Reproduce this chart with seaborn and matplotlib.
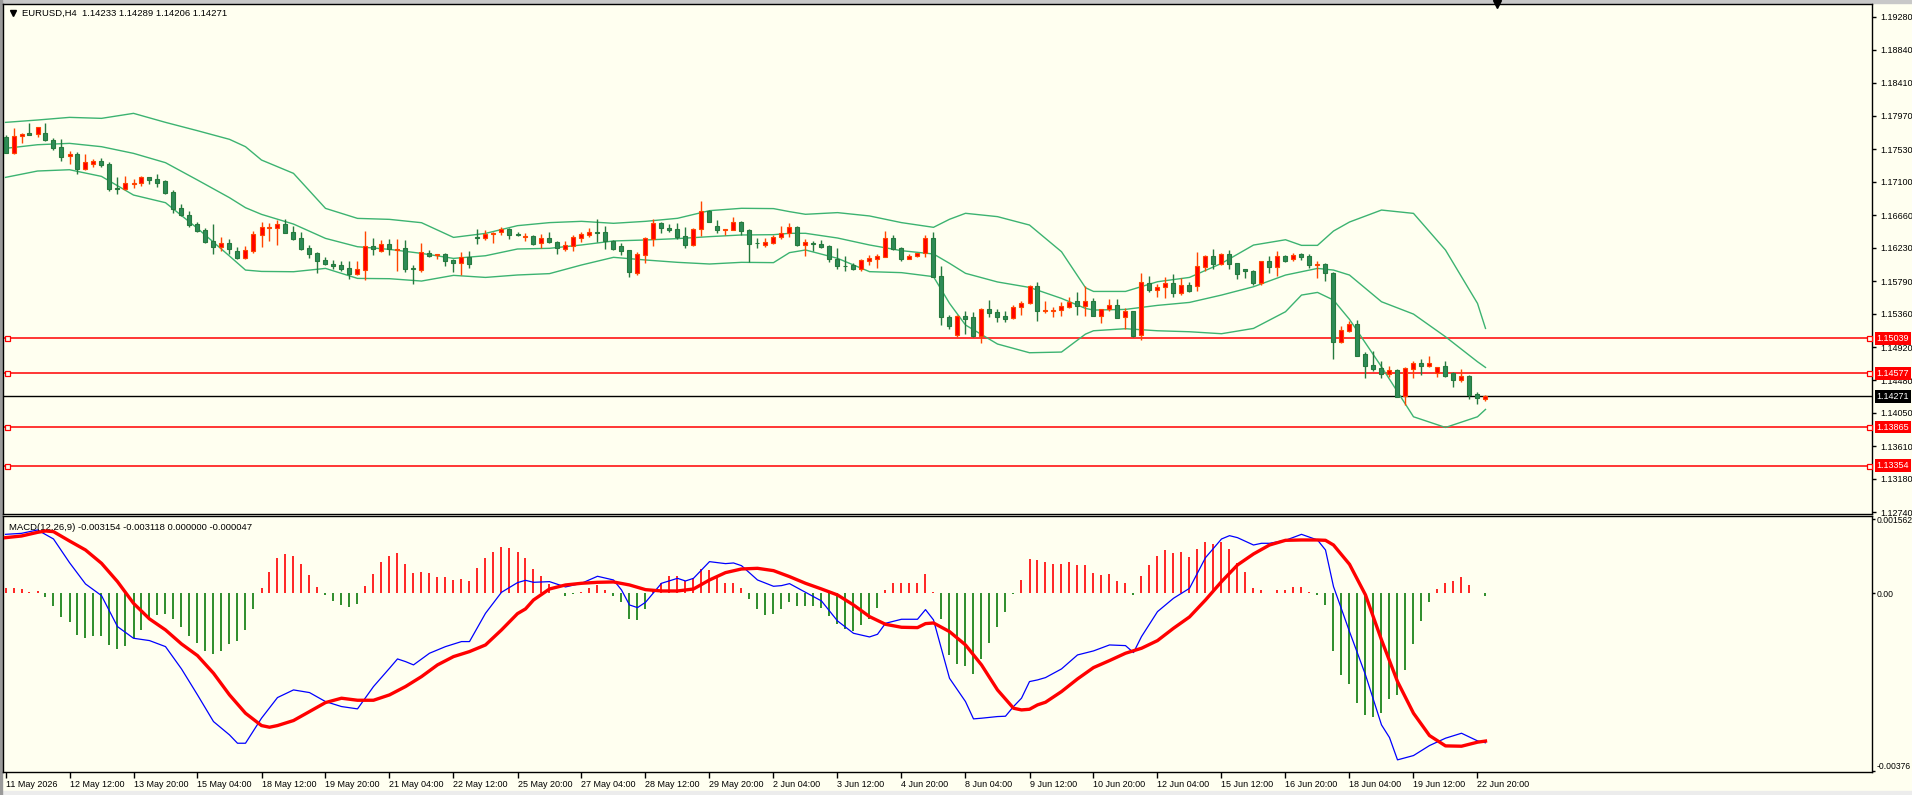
import numpy as np
import pandas as pd
import matplotlib
matplotlib.use("Agg")
import matplotlib.pyplot as plt
import seaborn as sns
from matplotlib.transforms import blended_transform_factory
from matplotlib.patches import Rectangle

plt.rcParams['font.family'] = ['Liberation Sans', 'DejaVu Sans']

# ---------------- data ----------------
SYMBOL_TITLE = "EURUSD,H4  1.14233 1.14289 1.14206 1.14271"
MACD_TITLE = "MACD(12,26,9) -0.003154 -0.003118 0.000000 -0.000047"

OPEN = [1.17696,1.17485,1.17705,1.17744,1.17727,1.17744,1.17648,1.17560,1.17436,1.17467,
1.17274,1.17340,1.17375,1.17335,1.17023,1.17010,1.17076,1.17080,1.17159,1.17137,
1.17111,1.16966,1.16754,1.16662,1.16543,1.16464,1.16314,1.16244,1.16292,1.16187,
1.16099,1.16191,1.16402,1.16495,1.16495,1.16543,1.16442,1.16358,1.16222,1.16165,
1.16068,1.16020,1.16002,1.15958,1.15888,1.15940,1.16253,1.16191,1.16279,1.16204,
1.16226,1.15958,1.15936,1.16160,1.16134,1.16147,1.16068,1.16033,1.16108,1.16367,
1.16354,1.16411,1.16434,1.16478,1.16412,1.16368,1.16386,1.16289,1.16355,1.16302,
1.16219,1.16258,1.16364,1.16403,1.16439,1.16434,1.16324,1.16254,1.16197,1.15902,
1.16139,1.16346,1.16557,1.16487,1.16474,1.16386,1.16271,1.16483,1.16716,1.16518,
1.16469,1.16469,1.16571,1.16461,1.16298,1.16271,1.16298,1.16368,1.16421,1.16505,
1.16271,1.16293,1.16280,1.16254,1.16078,1.15994,1.15999,1.15955,1.16051,1.16087,
1.16113,1.16355,1.16223,1.16087,1.16117,1.16157,1.16355,1.15853,1.15317,1.15079,
1.15330,1.15317,1.15070,1.15418,1.15383,1.15333,1.15298,1.15443,1.15496,1.15720,
1.15399,1.15399,1.15412,1.15452,1.15522,1.15465,1.15522,1.15333,1.15421,1.15470,
1.15311,1.15390,1.15074,1.15760,1.15676,1.15707,1.15764,1.15628,1.15734,1.15729,
1.15971,1.16121,1.16011,1.16143,1.16024,1.15945,1.15923,1.15764,1.16055,1.15980,
1.16116,1.16077,1.16143,1.16121,1.16002,1.16011,1.15901,1.14990,1.15135,1.15223,
1.14827,1.14682,1.14638,1.14568,1.14616,1.14268,1.14629,1.14708,1.14673,1.14572,
1.14669,1.14572,1.14484,1.14537,1.14299,1.14233]

HIGH = [1.17718,1.17810,1.17749,1.17881,1.17828,1.17881,1.17674,1.17665,1.17507,1.17489,
1.17467,1.17401,1.17410,1.17362,1.17168,1.17177,1.17133,1.17177,1.17168,1.17203,
1.17124,1.16992,1.16807,1.16715,1.16570,1.16486,1.16543,1.16376,1.16341,1.16240,
1.16253,1.16451,1.16570,1.16552,1.16596,1.16609,1.16517,1.16433,1.16262,1.16174,
1.16112,1.16068,1.16055,1.16050,1.16050,1.16451,1.16354,1.16332,1.16341,1.16341,
1.16332,1.16002,1.16288,1.16200,1.16152,1.16156,1.16077,1.16174,1.16187,1.16477,
1.16464,1.16438,1.16509,1.16496,1.16443,1.16421,1.16395,1.16412,1.16439,1.16320,
1.16320,1.16399,1.16434,1.16491,1.16606,1.16513,1.16333,1.16289,1.16205,1.16170,
1.16377,1.16606,1.16571,1.16544,1.16557,1.16509,1.16496,1.16848,1.16729,1.16593,
1.16478,1.16637,1.16579,1.16474,1.16364,1.16355,1.16399,1.16518,1.16553,1.16513,
1.16342,1.16320,1.16329,1.16263,1.16223,1.16122,1.16025,1.16082,1.16135,1.16148,
1.16452,1.16399,1.16245,1.16148,1.16161,1.16399,1.16439,1.15990,1.15343,1.15339,
1.15396,1.15387,1.15440,1.15541,1.15427,1.15395,1.15470,1.15531,1.15734,1.15778,
1.15522,1.15452,1.15514,1.15580,1.15646,1.15725,1.15566,1.15426,1.15549,1.15549,
1.15430,1.15399,1.15892,1.15857,1.15751,1.15839,1.15883,1.15830,1.15778,1.16174,
1.16130,1.16209,1.16156,1.16200,1.16033,1.15949,1.15936,1.16055,1.16116,1.16187,
1.16130,1.16156,1.16156,1.16147,1.16055,1.16024,1.15914,1.15197,1.15263,1.15276,
1.14854,1.14867,1.14730,1.14669,1.14625,1.14651,1.14735,1.14761,1.14801,1.14660,
1.14735,1.14585,1.14629,1.14546,1.14326,1.14289]

LOW = [1.17476,1.17467,1.17617,1.17714,1.17696,1.17643,1.17524,1.17375,1.17340,1.17199,
1.17256,1.17300,1.17300,1.16983,1.16939,1.16992,1.17018,1.17045,1.17071,1.17036,
1.16944,1.16693,1.16649,1.16508,1.16442,1.16297,1.16147,1.16191,1.16147,1.16077,
1.16077,1.16156,1.16244,1.16323,1.16266,1.16420,1.16332,1.16204,1.16099,1.15901,
1.16002,1.15949,1.15918,1.15822,1.15866,1.15808,1.16138,1.16178,1.16134,1.15927,
1.15914,1.15747,1.15914,1.16112,1.16077,1.15993,1.15910,1.15870,1.15967,1.16275,
1.16332,1.16288,1.16399,1.16351,1.16390,1.16324,1.16271,1.16227,1.16298,1.16153,
1.16192,1.16188,1.16311,1.16368,1.16307,1.16219,1.16201,1.16139,1.15849,1.15875,
1.16025,1.16258,1.16430,1.16439,1.16346,1.16223,1.16258,1.16390,1.16571,1.16430,
1.16399,1.16465,1.16399,1.16043,1.16227,1.16245,1.16276,1.16351,1.16368,1.16258,
1.16126,1.16192,1.16232,1.16038,1.15955,1.15928,1.15937,1.15928,1.16007,1.15963,
1.16104,1.16197,1.16060,1.16082,1.16109,1.16113,1.15840,1.15211,1.15158,1.15048,
1.15092,1.15057,1.14978,1.15312,1.15255,1.15254,1.15289,1.15342,1.15487,1.15263,
1.15373,1.15320,1.15333,1.15439,1.15342,1.15329,1.15330,1.15241,1.15399,1.15298,
1.15153,1.15056,1.15012,1.15650,1.15584,1.15562,1.15584,1.15610,1.15650,1.15663,
1.15927,1.15949,1.15998,1.15954,1.15822,1.15835,1.15742,1.15734,1.15901,1.15857,
1.16046,1.16059,1.16068,1.15962,1.15835,1.15795,1.14766,1.14977,1.15113,1.14800,
1.14515,1.14598,1.14510,1.14528,1.14260,1.14154,1.14515,1.14554,1.14660,1.14519,
1.14528,1.14392,1.14462,1.14238,1.14172,1.14206]

CLOSE = [1.17485,1.17705,1.17731,1.17722,1.17819,1.17656,1.17551,1.17432,1.17467,1.17274,
1.17362,1.17375,1.17322,1.17010,1.17010,1.17084,1.17089,1.17168,1.17128,1.17089,
1.16957,1.16746,1.16662,1.16534,1.16455,1.16310,1.16244,1.16288,1.16218,1.16099,
1.16196,1.16411,1.16504,1.16504,1.16543,1.16429,1.16345,1.16218,1.16152,1.16059,
1.16015,1.15993,1.15954,1.15883,1.15945,1.16253,1.16209,1.16275,1.16209,1.16213,
1.15954,1.15945,1.16169,1.16125,1.16147,1.16059,1.16033,1.16103,1.16011,1.16358,
1.16411,1.16424,1.16474,1.16403,1.16395,1.16386,1.16285,1.16355,1.16307,1.16223,
1.16271,1.16373,1.16412,1.16439,1.16430,1.16320,1.16214,1.16192,1.15906,1.16144,
1.16355,1.16553,1.16491,1.16465,1.16377,1.16271,1.16478,1.16711,1.16575,1.16469,
1.16478,1.16566,1.16452,1.16285,1.16289,1.16307,1.16373,1.16421,1.16500,1.16271,
1.16307,1.16276,1.16245,1.16078,1.15994,1.15985,1.15950,1.16065,1.16095,1.16122,
1.16355,1.16210,1.16082,1.16117,1.16157,1.16355,1.15849,1.15312,1.15202,1.15325,
1.15295,1.15070,1.15418,1.15374,1.15321,1.15289,1.15448,1.15496,1.15720,1.15399,
1.15412,1.15412,1.15461,1.15518,1.15461,1.15522,1.15333,1.15417,1.15470,1.15307,
1.15390,1.15069,1.15773,1.15676,1.15712,1.15760,1.15628,1.15734,1.15663,1.15989,
1.16121,1.16011,1.16143,1.16020,1.15888,1.15918,1.15769,1.16050,1.15980,1.16116,
1.16059,1.16130,1.16112,1.16006,1.16011,1.15901,1.14990,1.15140,1.15219,1.14805,
1.14673,1.14629,1.14568,1.14612,1.14264,1.14638,1.14708,1.14673,1.14708,1.14651,
1.14541,1.14488,1.14537,1.14290,1.14242,1.14271]

BAND_IDX = [0,4,8,12,16,20,24,28,30,32,36,40,44,48,52,56,60,64,68,72,76,80,84,88,92,96,98,100,
            104,108,112,116,118,120,124,128,132,135,136,140,144,148,152,156,160,162,164,166,168,
            172,176,180,184,185]
BAND_UP = [1.17885,1.17916,1.17951,1.17938,1.18004,1.17885,1.17775,1.17661,1.17564,1.17388,1.17212,
           1.16750,1.16618,1.16605,1.16561,1.16367,1.16420,1.16522,1.16562,1.16579,1.16553,1.16579,
           1.16619,1.16720,1.16751,1.16747,1.16707,1.16672,1.16694,1.16650,1.16562,1.16500,1.16606,
           1.16685,1.16641,1.16530,1.16178,1.15703,1.15654,1.15654,1.15782,1.15839,1.16024,1.16266,
           1.16336,1.16262,1.16262,1.16451,1.16570,1.16728,1.16684,1.16200,1.15496,1.15166]
BAND_MID = [1.17542,1.17590,1.17608,1.17564,1.17476,1.17353,1.17124,1.16891,1.16759,1.16671,1.16543,
            1.16354,1.16244,1.16209,1.16156,1.16090,1.16125,1.16214,1.16223,1.16267,1.16320,1.16333,
            1.16351,1.16377,1.16399,1.16403,1.16421,1.16421,1.16359,1.16267,1.16192,1.16148,1.16025,
            1.15893,1.15779,1.15707,1.15562,1.15430,1.15408,1.15417,1.15470,1.15509,1.15606,1.15716,
            1.15870,1.15914,1.15958,1.15936,1.15870,1.15518,1.15355,1.15056,1.14726,1.14651]
BAND_LOW = [1.17159,1.17243,1.17260,1.17172,1.16926,1.16825,1.16486,1.16121,1.15936,1.15918,1.15914,
            1.15958,1.15826,1.15822,1.15791,1.15866,1.15839,1.15871,1.15889,1.16003,1.16104,1.16069,
            1.16038,1.16016,1.16038,1.16034,1.16166,1.16201,1.16091,1.15915,1.15902,1.15849,1.15497,
            1.15211,1.14960,1.14845,1.14854,1.15091,1.15135,1.15162,1.15135,1.15122,1.15096,1.15166,
            1.15386,1.15606,1.15641,1.15540,1.15285,1.14660,1.14000,1.13859,1.14000,1.14097]

LEVELS = [1.15039, 1.14577, 1.13865, 1.13354]
PRICE_TICKS = [1.19280,1.18840,1.18410,1.17970,1.17530,1.17100,1.16660,1.16230,1.15790,
               1.15360,1.14920,1.14480,1.14050,1.13610,1.13180,1.12740]

HIST = [0.000112,0.000112,0.000091,0.000035,0.000049,-0.000070,-0.000260,-0.000492,-0.000605,-0.000872,
-0.000935,-0.000907,-0.000907,-0.001083,-0.001167,-0.001104,-0.000949,-0.000766,-0.000569,-0.000457,
-0.000436,-0.000548,-0.000710,-0.000893,-0.001040,-0.001216,-0.001272,-0.001223,-0.001062,-0.001005,
-0.000773,-0.000323,0.000112,0.000450,0.000745,0.000823,0.000787,0.000619,0.000380,0.000134,
-0.000028,-0.000162,-0.000246,-0.000281,-0.000225,0.000155,0.000408,0.000661,0.000780,0.000851,
0.000619,0.000429,0.000450,0.000429,0.000344,0.000344,0.000281,0.000302,0.000260,0.000541,
0.000745,0.000872,0.000977,0.000956,0.000879,0.000745,0.000513,0.000366,0.000197,0.000007,
-0.000049,-0.000014,0.000021,0.000112,0.000183,0.000070,-0.000049,-0.000176,-0.000534,-0.000555,
-0.000323,0.000042,0.000211,0.000359,0.000359,0.000253,0.000316,0.000513,0.000485,0.000373,
0.000218,0.000218,0.000112,-0.000112,-0.000323,-0.000450,-0.000429,-0.000323,-0.000176,-0.000260,
-0.000260,-0.000260,-0.000302,-0.000471,-0.000640,-0.000745,-0.000787,-0.000661,-0.000534,-0.000302,
0.000077,0.000218,0.000218,0.000218,0.000218,0.000408,0.000028,-0.000534,-0.001294,-0.001483,
-0.001533,-0.001701,-0.001378,-0.001040,-0.000703,-0.000387,-0.000014,0.000281,0.000724,0.000703,
0.000661,0.000619,0.000619,0.000661,0.000598,0.000598,0.000429,0.000387,0.000408,0.000260,
0.000218,-0.000042,0.000366,0.000598,0.000787,0.000914,0.000851,0.000872,0.000766,0.000935,
0.001083,0.001040,0.001083,0.000935,0.000640,0.000450,0.000112,0.000070,0.000000,0.000070,
0.000070,0.000134,0.000134,0.000028,-0.000035,-0.000246,-0.001209,-0.001722,-0.001912,-0.002306,
-0.002566,-0.002601,-0.002517,-0.002221,-0.002137,-0.001610,-0.001062,-0.000576,-0.000176,0.000091,
0.000218,0.000260,0.000344,0.000176,0.000007,-0.000047]

MACD_IDX = [0,2,4,6,8,10,12,14,16,18,20,22,24,26,28,29,30,32,34,36,38,40,42,44,46,48,49,50,51,53,55,
            57,58,60,62,64,65,66,68,70,72,74,76,77,78,79,80,82,84,85,86,88,90,91,92,94,96,97,98,100,
            102,104,106,108,109,110,112,114,115,116,118,120,121,122,124,125,126,127,128,129,130,132,
            134,136,138,140,141,142,144,146,148,150,152,153,154,156,157,158,160,162,164,165,166,168,
            170,172,173,174,176,178,180,182,184,185]
MACD_MAIN = [0.001244,0.001265,0.001336,0.001146,0.000647,0.000197,-0.000049,-0.000703,-0.000949,-0.000998,
-0.001125,-0.001596,-0.002144,-0.002707,-0.002988,-0.003164,-0.003164,-0.002636,-0.002200,-0.002039,
-0.002095,-0.002285,-0.002390,-0.002439,-0.001968,-0.001582,-0.001385,-0.001441,-0.001511,-0.001265,
-0.001125,-0.001019,-0.001019,-0.000422,0.000021,0.000225,0.000274,0.000232,0.000246,0.000134,
0.000211,0.000359,0.000281,0.000070,-0.000246,-0.000302,-0.000190,0.000211,0.000316,0.000260,
0.000316,0.000668,0.000626,0.000640,0.000583,0.000281,0.000148,0.000162,0.000204,0.000021,
-0.000162,-0.000583,-0.000844,-0.000921,-0.000865,-0.000633,-0.000548,-0.000548,-0.000344,-0.000562,
-0.001793,-0.002285,-0.002650,-0.002636,-0.002601,-0.002594,-0.002390,-0.002214,-0.001863,-0.001828,
-0.001779,-0.001596,-0.001301,-0.001216,-0.001090,-0.001104,-0.001251,-0.000914,-0.000387,-0.000105,
0.000105,0.000752,0.001146,0.001216,0.001174,0.001019,0.001055,0.001055,0.001118,0.001244,
0.001125,0.000914,0.000141,-0.000808,-0.001722,-0.002777,-0.003044,-0.003515,-0.003424,-0.003213,
-0.003058,-0.002953,-0.003114,-0.003154]

SIG_IDX = [0,2,4,5,6,8,10,12,14,16,18,20,22,24,26,28,30,32,33,34,36,38,40,42,44,46,48,50,52,54,56,58,
           60,62,64,65,66,68,70,72,74,76,78,80,82,84,86,88,90,92,94,96,98,100,102,104,106,108,110,112,
           114,115,116,118,120,122,124,126,127,128,129,130,132,134,136,138,140,142,144,146,148,150,152,
           154,156,158,160,162,164,165,166,168,170,172,174,176,178,180,182,184,185]
MACD_SIGNAL = [0.001174,0.001209,0.001286,0.001315,0.001301,0.001104,0.000914,0.000633,0.000246,-0.000211,
-0.000541,-0.000773,-0.001069,-0.001315,-0.001687,-0.002144,-0.002531,-0.002791,-0.002826,-0.002791,
-0.002685,-0.002496,-0.002306,-0.002214,-0.002257,-0.002257,-0.002144,-0.001968,-0.001758,-0.001511,
-0.001336,-0.001230,-0.001090,-0.000773,-0.000429,-0.000330,-0.000141,0.000091,0.000176,0.000211,
0.000232,0.000239,0.000176,0.000077,0.000049,0.000049,0.000091,0.000281,0.000436,0.000513,
0.000527,0.000478,0.000352,0.000211,0.000091,-0.000035,-0.000246,-0.000492,-0.000654,-0.000717,
-0.000724,-0.000640,-0.000626,-0.000808,-0.001090,-0.001511,-0.002039,-0.002425,-0.002461,-0.002447,
-0.002355,-0.002299,-0.002074,-0.001807,-0.001568,-0.001420,-0.001265,-0.001160,-0.000998,-0.000738,
-0.000499,-0.000141,0.000246,0.000598,0.000830,0.001019,0.001118,0.001125,0.001125,0.001118,
0.001019,0.000612,-0.000035,-0.000984,-0.001863,-0.002531,-0.003002,-0.003220,-0.003227,-0.003142,
-0.003118]

TIME_LABELS = ["11 May 2026","12 May 12:00","13 May 20:00","15 May 04:00","18 May 12:00",
               "19 May 20:00","21 May 04:00","22 May 12:00","25 May 20:00","27 May 04:00",
               "28 May 12:00","29 May 20:00","2 Jun 04:00","3 Jun 12:00","4 Jun 20:00",
               "8 Jun 04:00","9 Jun 12:00","10 Jun 20:00","12 Jun 04:00","15 Jun 12:00",
               "16 Jun 20:00","18 Jun 04:00","19 Jun 12:00","22 Jun 20:00"]
LABEL_STEP = 8  # bars between time labels
MACD_TICKS = [0.001562, 0.0, -0.00376]
MACD_TICK_LABELS = ["0.001562", "0.00", "-0.00376"]

# ---------------- style ----------------
BG = '#FFFFF0'
UP_FILL, UP_EDGE = '#FF0000', '#FF4500'
DN_FILL, DN_EDGE = '#2E8B57', '#267A3E'
BAND_C = '#3CB371'
FS = 6.5

W, Hpx = 1912, 795
fig = plt.figure(figsize=(W / 100, Hpx / 100), dpi=100, facecolor=BG)
# window frame
fig.add_artist(Rectangle((0, 0), 1, 4 / Hpx, transform=fig.transFigure, color='#ECECEC', zorder=0))
fig.add_artist(Rectangle((0, 1 - 3 / Hpx), 1, 3 / Hpx, transform=fig.transFigure, color='#C8C8C8', zorder=0))
fig.add_artist(Rectangle((0, 0), 2 / W, 1, transform=fig.transFigure, color='#9A9A9A', zorder=0))

ax1 = fig.add_axes([3 / W, 1 - 514 / Hpx, 1869 / W, 510 / Hpx])
ax2 = fig.add_axes([3 / W, 1 - 772 / Hpx, 1869 / W, 256 / Hpx])
for ax in (ax1, ax2):
    ax.set_facecolor(BG)
    for s in ax.spines.values():
        s.set_color('black')
        s.set_linewidth(1.0)

XMIN, XMAX = -0.3125, 233.3125
O, Hh, Lo, C = map(np.array, (OPEN, HIGH, LOW, CLOSE))
idx = np.arange(len(O))
up = C >= O

# Bollinger bands (seaborn)
for vals in (BAND_UP, BAND_MID, BAND_LOW):
    sns.lineplot(x=BAND_IDX, y=vals, ax=ax1, color=BAND_C, linewidth=1.0,
                 estimator=None, sort=False, legend=False, zorder=2)

# horizontal levels
for lvl in LEVELS:
    ax1.axhline(lvl, color='red', linewidth=1.1, zorder=1.5)
    ax1.plot([XMIN + 0.45, XMAX - 0.4], [lvl, lvl], linestyle='none', marker='s', ms=3.6,
             mfc=BG, mec='red', mew=0.9, zorder=6, clip_on=False)
ax1.axhline(C[-1], color='black', linewidth=1.0, zorder=1.5)

# candles
ax1.vlines(idx[up], Lo[up], Hh[up], color=UP_EDGE, linewidth=1.0, zorder=3)
ax1.vlines(idx[~up], Lo[~up], Hh[~up], color=DN_EDGE, linewidth=1.0, zorder=3)
ax1.bar(idx[up], (C - O)[up], bottom=O[up], width=0.5, color=UP_FILL,
        edgecolor=UP_EDGE, linewidth=0.8, zorder=4)
ax1.bar(idx[~up], (O - C)[~up], bottom=C[~up], width=0.5, color=DN_FILL,
        edgecolor=DN_EDGE, linewidth=0.8, zorder=4)

ax1.set_xlim(XMIN, XMAX)
ax1.set_ylim(1.12717, 1.19447)
ax1.set_xticks([])
ax1.set_xlabel('')
ax1.set_ylabel('')
ax1.yaxis.tick_right()
ax1.set_yticks(PRICE_TICKS)
ax1.set_yticklabels([f"{v:.5f}" for v in PRICE_TICKS])
ax1.tick_params(axis='y', length=3, width=1, labelsize=FS, pad=3, colors='black')

trans1 = blended_transform_factory(ax1.transAxes, ax1.transData)
for lvl in LEVELS:
    ax1.text(1 + 4.5 / 1869, lvl, f"{lvl:.5f}", transform=trans1, ha='left', va='center',
             color='white', fontsize=FS, clip_on=False, zorder=10,
             bbox=dict(boxstyle='square,pad=0.22', fc='#FF0000', ec='none'))
ax1.text(1 + 4.5 / 1869, C[-1], f"{C[-1]:.5f}", transform=trans1, ha='left', va='center',
         color='white', fontsize=FS, clip_on=False, zorder=10,
         bbox=dict(boxstyle='square,pad=0.22', fc='black', ec='none'))

# title
ax1.text(19 / 1869, 1 - 9 / 510, SYMBOL_TITLE, transform=ax1.transAxes, ha='left', va='center',
         fontsize=FS + 0.3, color='black')
ax1.plot([10 / 1869], [1 - 9 / 510], marker='v', ms=4.5, color='black',
         transform=ax1.transAxes, clip_on=False)
# chart shift marker
trans_top = blended_transform_factory(ax1.transData, ax1.transAxes)
ax1.plot([len(O) + 0.4], [1.0], marker='v', ms=6, color='black', transform=trans_top,
         clip_on=False, zorder=10)

# ---------------- MACD ----------------
h = np.array(HIST)
pos = h >= 0
ax2.vlines(idx[pos], 0, h[pos], color='#FF0000', linewidth=1.2, zorder=2)
ax2.vlines(idx[~pos], 0, h[~pos], color='#0A7A0A', linewidth=1.2, zorder=2)
sns.lineplot(x=MACD_IDX, y=MACD_MAIN, ax=ax2, color='#0000FF', linewidth=0.9,
             estimator=None, sort=False, legend=False, zorder=3)
sns.lineplot(x=SIG_IDX, y=MACD_SIGNAL, ax=ax2, color='#FF0000', linewidth=2.4,
             estimator=None, sort=False, legend=False, zorder=4)
ax2.set_xlim(XMIN, XMAX)
ax2.set_ylim(-0.003771, 0.001631)
ax2.set_xlabel('')
ax2.set_ylabel('')
ax2.yaxis.tick_right()
ax2.set_yticks(MACD_TICKS)
ylabs = ax2.set_yticklabels(MACD_TICK_LABELS)
ylabs[-1].set_va('bottom')
ax2.tick_params(axis='y', length=2, width=1, labelsize=FS - 0.3, pad=1.5, colors='black')
ax2.set_xticks(np.arange(len(TIME_LABELS)) * LABEL_STEP)
ax2.set_xticklabels(TIME_LABELS, ha='left')
ax2.tick_params(axis='x', length=4, width=1, labelsize=FS, pad=1.5, colors='black')
ax2.text(6 / 1869, 1 - 11 / 256, MACD_TITLE, transform=ax2.transAxes, ha='left', va='center',
         fontsize=FS + 0.3, color='black')

fig.savefig('out.png', dpi=100, facecolor=BG)
